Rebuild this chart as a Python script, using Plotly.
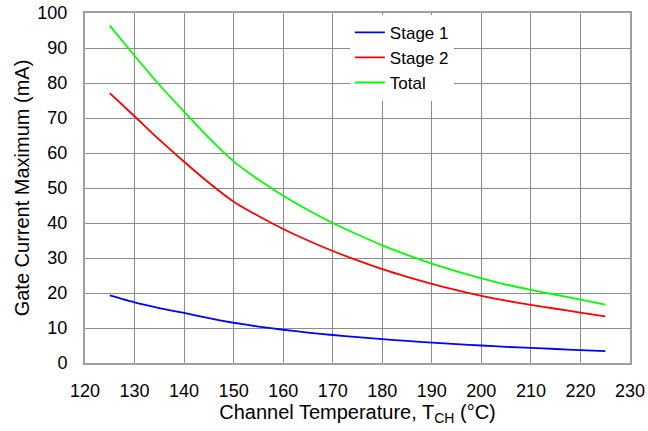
import plotly.graph_objects as go

temps = [125, 130, 135, 140, 145, 150, 155, 160, 165, 170, 175, 180, 185, 190, 195, 200, 205, 210, 215, 220, 225]
stage1 = [19.3, 17.3, 15.7, 14.3, 12.8, 11.5, 10.4, 9.5, 8.7, 8.0, 7.4, 6.8, 6.3, 5.8, 5.4, 5.0, 4.6, 4.3, 4.0, 3.7, 3.4]
stage2 = [77.1, 70.5, 63.8, 57.5, 51.5, 46.1, 42.0, 38.3, 35.0, 32.0, 29.3, 26.8, 24.6, 22.6, 20.8, 19.2, 17.8, 16.6, 15.5, 14.4, 13.3]
total = [96.4, 87.8, 79.5, 71.8, 64.3, 57.6, 52.4, 47.8, 43.7, 40.0, 36.7, 33.6, 30.9, 28.4, 26.2, 24.2, 22.4, 20.9, 19.5, 18.1, 16.7]

x_ticks = list(range(120, 231, 10))
y_ticks = list(range(0, 101, 10))

fig = go.Figure()
for name, vals, color in [("Stage 1", stage1, "#0000ff"), ("Stage 2", stage2, "#ff0000"), ("Total", total, "#00ff00")]:
    fig.add_trace(go.Scatter(x=temps, y=vals, mode="lines", name=name,
                             line=dict(color=color, width=1.8, shape="spline", smoothing=0.6)))

axis_common = dict(showgrid=True, gridcolor="#8c8c8c", gridwidth=1, showline=True,
                   linecolor="#a0a0a0", linewidth=2, mirror=True, zeroline=False,
                   ticks="", tickfont=dict(size=18, color="black"))

fig.update_xaxes(range=[120, 230], tickvals=x_ticks, ticklabelstandoff=10, automargin="bottom", **axis_common,
                 title=dict(text="Channel Temperature, T<sub>CH</sub> (°C)", font=dict(size=20, color="black"), standoff=4))
fig.update_yaxes(range=[0, 100], tickvals=y_ticks, ticklabelstandoff=12, automargin="left", **axis_common,
                 title=dict(text="Gate Current Maximum (mA)", font=dict(size=20, color="black"), standoff=2))

fig.update_layout(
    width=648, height=431,
    margin=dict(l=85, r=18, t=13, b=68),
    paper_bgcolor="white", plot_bgcolor="white",
    font=dict(family="Liberation Sans, Arial, sans-serif", color="black"),
    legend=dict(x=0.486, y=0.995, xanchor="left", yanchor="top", bgcolor="white",
                font=dict(size=17), tracegroupgap=0, itemwidth=30),
    showlegend=True,
)

fig.write_html("out.html", config={"displayModeBar": False},
               post_script="document.body.style.margin='0';")
